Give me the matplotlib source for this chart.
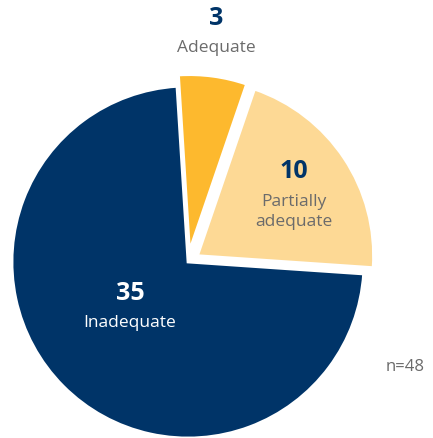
import matplotlib
matplotlib.use("Agg")
import matplotlib.pyplot as plt

# survey result counts, in drawing order (counter-clockwise from the top)
categories = ["Inadequate", "Partially\nadequate", "Adequate"]
counts = [35, 10, 3]
colors = ["#003468", "#FDD995", "#FDB92E"]
explode = [0.0, 0.065, 0.065]
total = sum(counts)

NAVY = "#003468"
GREY = "#6b6b6b"
plt.rcParams["font.family"] = ["Open Sans", "DejaVu Sans"]

W, H = 433, 438
fig = plt.figure(figsize=(W / 100, H / 100), dpi=100)
ax = fig.add_axes([0, 0, 1, 1])

ax.pie(counts, colors=colors, explode=explode, startangle=93.6,
       counterclock=True, radius=1.0,
       wedgeprops=dict(edgecolor="white", linewidth=2))

# pie centre at (188, 262) px from the top-left, radius 176 px
cx, cy, r = 188, 262, 176
ax.set_xlim(-cx / r, (W - cx) / r)
ax.set_ylim(-(H - cy) / r, cy / r)
ax.set_aspect("auto")
ax.axis("off")


def px(x, y):
    return ((x - cx) / r, (cy - y) / r)


# slice labels
ax.text(*px(130, 293), str(counts[0]), color="white", fontsize=18,
        fontweight="bold", ha="center", va="center")
ax.text(*px(130, 323), categories[0], color="white", fontsize=12.5,
        ha="center", va="center")

ax.text(*px(294, 172), str(counts[1]), color=NAVY, fontsize=18,
        fontweight="bold", ha="center", va="center")
ax.text(*px(294, 212), categories[1], color=GREY, fontsize=12.5,
        ha="center", va="center", linespacing=1.3)

ax.text(*px(216, 19), str(counts[2]), color=NAVY, fontsize=18,
        fontweight="bold", ha="center", va="center")
ax.text(*px(216, 48), categories[2], color=GREY, fontsize=12.5,
        ha="center", va="center")

ax.text(*px(405, 367), f"n={total}", color=GREY, fontsize=12,
        ha="center", va="center")

fig.savefig("out.png", dpi=100, facecolor="white")
